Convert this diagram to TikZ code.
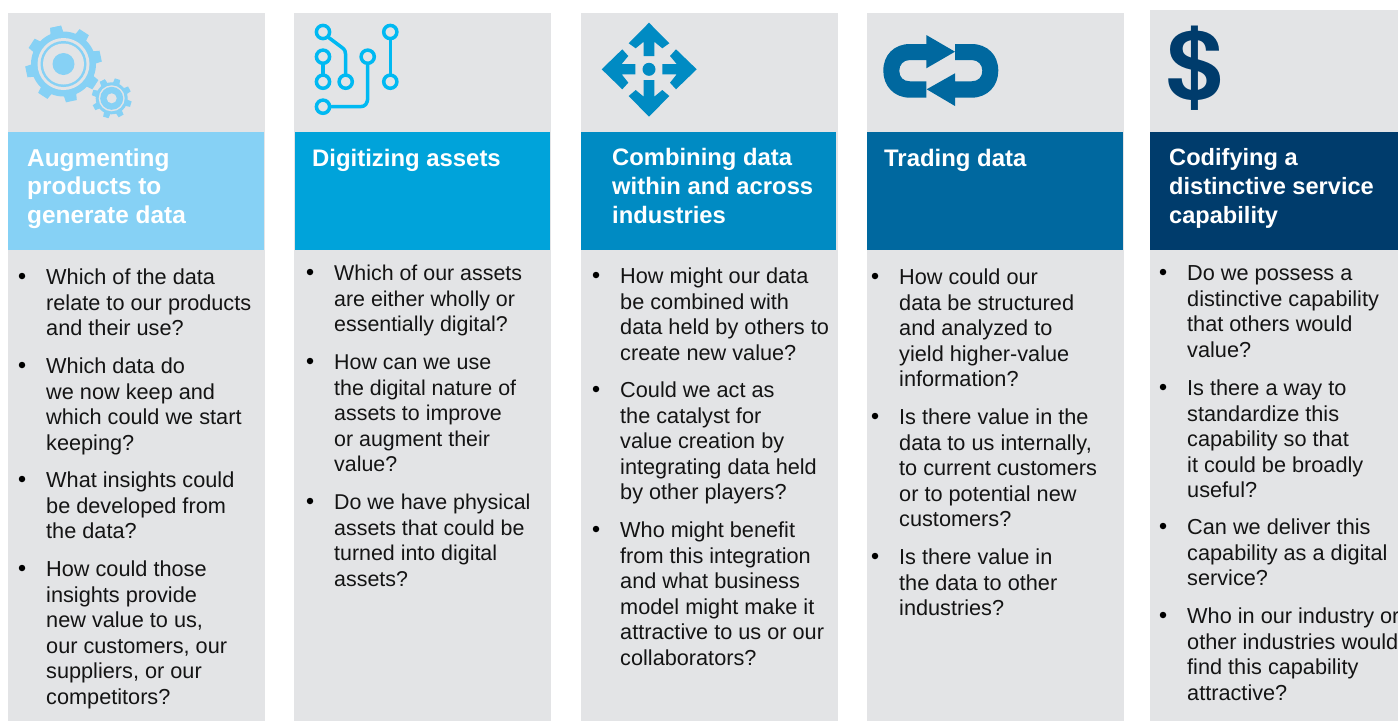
\documentclass[tikz,border=0pt]{standalone}
\usepackage{fontspec}
\setmainfont{Liberation Sans}
\newfontfamily\dollarfont{TeX Gyre Heros}
\definecolor{panel}{HTML}{E3E4E6}
\definecolor{cA}{HTML}{86D1F5}
\definecolor{cB}{HTML}{00A3DA}
\definecolor{cC}{HTML}{008BC3}
\definecolor{cD}{HTML}{00689F}
\definecolor{cE}{HTML}{003C6C}
\definecolor{iB}{HTML}{00B9F2}
\definecolor{iE}{HTML}{003C6C}
\newcommand{\qitem}[4]{%
  \node[bulletmark] (#1b) at (#2-24,#3-1) {};
  \node[qtext] (#1) at (#2,#3-8.7) {\rule{0pt}{16pt}#4};
}
\tikzset{
  x=1pt,y=-1pt,
  panelbox/.style={fill=panel,draw=none},
  headtext/.style={anchor=north west,inner sep=0pt,align=left,text=white,font=\fontsize{24}{28.6}\selectfont\bfseries},
  qtext/.style={anchor=north west,inner sep=0pt,align=left,font=\fontsize{21.7}{25.6}\selectfont,text=black!92},
  bulletmark/.style={circle,inner sep=0pt,minimum size=6.5pt,fill=black},
}
\begin{document}
\begin{tikzpicture}
\useasboundingbox (0,0) rectangle (1398,721);
% panels
\fill[panelbox] (8,13) rectangle (265,721);
\fill[panelbox] (294,13) rectangle (551,721);
\fill[panelbox] (581,13) rectangle (838,721);
\fill[panelbox] (867,13) rectangle (1124,721);
\fill[panelbox] (1150,10) rectangle (1398,721);
% headers
\fill[cA] (8,132) rectangle (264,250);
\fill[cB] (295,132) rectangle (550,250);
\fill[cC] (581,132) rectangle (836,250);
\fill[cD] (867,132) rectangle (1123,250);
\fill[cE] (1150,132) rectangle (1398,250);
\node[headtext,font=\fontsize{24.4}{28.6}\selectfont\bfseries] (hA) at (27,148.5) {Augmenting\\products to\\generate data};
\node[headtext,font=\fontsize{23.9}{28.6}\selectfont\bfseries] (hB) at (312,148.5) {Digitizing assets};
\node[headtext,font=\fontsize{23.8}{28.6}\selectfont\bfseries] (hC) at (612,148.5) {Combining data\\within and across\\industries};
\node[headtext,font=\fontsize{23.9}{28.6}\selectfont\bfseries] (hD) at (884,148.5) {Trading data};
\node[headtext,font=\fontsize{23.6}{28.6}\selectfont\bfseries] (hE) at (1169,148.5) {Codifying a\\distinctive service\\capability};
% column 1
\qitem{a1}{46}{277}{Which of the data\\relate to our products\\and their use?}
\qitem{a2}{46}{366}{Which data do\\we now keep and\\which could we start\\keeping?}
\qitem{a3}{46}{480}{What insights could\\be developed from\\the data?}
\qitem{a4}{46}{569}{How could those\\insights provide\\new value to us,\\our customers, our\\suppliers, or our\\competitors?}
% column 2
\begin{scope}[qtext/.append style={font=\fontsize{21.4}{25.6}\selectfont}]
\qitem{b1}{334}{273}{Which of our assets\\are either wholly or\\essentially digital?}
\qitem{b2}{334}{362}{How can we use\\the digital nature of\\assets to improve\\or augment their\\value?}
\qitem{b3}{334}{502}{Do we have physical\\assets that could be\\turned into digital\\assets?}
\end{scope}
% column 3
\qitem{c1}{620}{276}{How might our data\\be combined with\\data held by others to\\create new value?}
\qitem{c2}{620}{390}{Could we act as\\the catalyst for\\value creation by\\integrating data held\\by other players?}
\qitem{c3}{620}{530}{Who might benefit\\from this integration\\and what business\\model might make it\\attractive to us or our\\collaborators?}
% column 4
\qitem{d1}{899}{277}{How could our\\data be structured\\and analyzed to\\yield higher-value\\information?}
\qitem{d2}{899}{417}{Is there value in the\\data to us internally,\\to current customers\\or to potential new\\customers?}
\qitem{d3}{899}{557}{Is there value in\\the data to other\\industries?}
% column 5
\qitem{e1}{1187}{273}{Do we possess a\\distinctive capability\\that others would\\value?}
\qitem{e2}{1187}{388}{Is there a way to\\standardize this\\capability so that\\it could be broadly\\useful?}
\qitem{e3}{1187}{527}{Can we deliver this\\capability as a digital\\service?}
\qitem{e4}{1187}{616}{Who in our industry or\\other industries would\\find this capability\\attractive?}
% gears
\begin{scope}[shift={(63.5,64)}]
  \foreach \a in {12,57,...,372}{
    \fill[cA,rotate=\a] (-6.5,-30) -- (-5.5,-38) -- (5.5,-38) -- (6.5,-30) -- cycle;
  }
  \fill[cA] (0,0) circle (32.5);
  \fill[panel] (0,0) circle (26);
  \fill[cA] (0,0) circle (23);
  \fill[panel] (0,0) circle (20.5);
  \fill[cA] (0,0) circle (11);
\end{scope}
\begin{scope}[shift={(111.7,98.3)}]
  \foreach \a in {28,73,...,388}{
    \fill[cA,rotate=\a] (-3.4,-14) -- (-2.8,-20) -- (2.8,-20) -- (3.4,-14) -- cycle;
  }
  \fill[cA] (0,0) circle (16);
  \fill[panel] (0,0) circle (13);
  \fill[cA] (0,0) circle (11.5);
  \fill[panel] (0,0) circle (5);
\end{scope}
% circuit
\begin{scope}[iB,line width=3.5pt]
  \draw (323,32) circle (6.6);
  \draw (323,56.7) circle (6.6);
  \draw (323,81.7) circle (6.6);
  \draw (345.7,81.7) circle (6.6);
  \draw (367.7,56.7) circle (6.6);
  \draw (390.3,32) circle (6.6);
  \draw (390.3,81.7) circle (6.6);
  \draw (323,106.7) circle (6.6);
  \draw (328,37) -- (342,47.5) .. controls (345,50) and (345.7,51.5) .. (345.7,55) -- (345.7,75);
  \draw (323,63) -- (323,75);
  \draw (367.7,63) -- (367.7,97) .. controls (367.7,104) and (365,106.7) .. (360,106.7) -- (329.5,106.7);
  \draw (390.3,38.5) -- (390.3,75);
\end{scope}
% arrows
\begin{scope}[cC]
  \fill (649,69.3) circle (6.5);
  \fill (649,22.7) -- (669.3,43.3) -- (662.3,48.3) -- (654.3,41.7) -- (654.3,56) -- (643.7,56) -- (643.7,41.7) -- (635.7,48.3) -- (628.7,43.3) -- cycle;
  \fill (649,116.7) -- (669.3,96) -- (662.3,90) -- (654.3,96.7) -- (654.3,80) -- (643.7,80) -- (643.7,96.7) -- (635.7,90) -- (628.7,96) -- cycle;
  \fill (601.7,69.3) -- (622.3,49.3) -- (628.3,56) -- (621.7,64) -- (635.3,64) -- (635.3,74.3) -- (621.7,74.3) -- (628.3,82.7) -- (622.3,89.3) -- cycle;
  \fill (696.7,69.3) -- (676,49.3) -- (670,56) -- (676.7,64) -- (662.3,64) -- (662.3,74.3) -- (676.7,74.3) -- (670,82.7) -- (676,89.3) -- cycle;
\end{scope}
% exchange
\begin{scope}[cD]
  \fill (926.3,35) -- (955,51.7) -- (926.3,68.3) -- (926.3,60) -- (910,60) .. controls (903,60) and (899.3,65) .. (899.3,70.7) .. controls (899.3,77) and (903,81.3) .. (910,81.3) -- (926.3,81.3) -- (926.3,97.7) -- (910,97.7) .. controls (894,97.7) and (883.3,86) .. (883.3,70.7) .. controls (883.3,55) and (894,44) .. (910,44) -- (926.3,44) -- cycle;
  \fill (955,106) -- (926.7,89.3) -- (955,73.3) -- (955,81.3) -- (971.5,81.3) .. controls (978.5,81.3) and (982.3,77) .. (982.3,70.7) .. controls (982.3,65) and (978.5,60) .. (971.5,60) -- (955,60) -- (955,44) -- (971.5,44) .. controls (987.5,44) and (998.3,55) .. (998.3,70.7) .. controls (998.3,86) and (987.5,97.7) .. (971.5,97.7) -- (955,97.7) -- cycle;
\end{scope}
% dollar
\node[inner sep=0pt,text=iE,xscale=1.08,font=\fontsize{95}{95}\selectfont\dollarfont\bfseries] (dollar) at (1195,68.5) {\$};
\end{tikzpicture}
\end{document}
